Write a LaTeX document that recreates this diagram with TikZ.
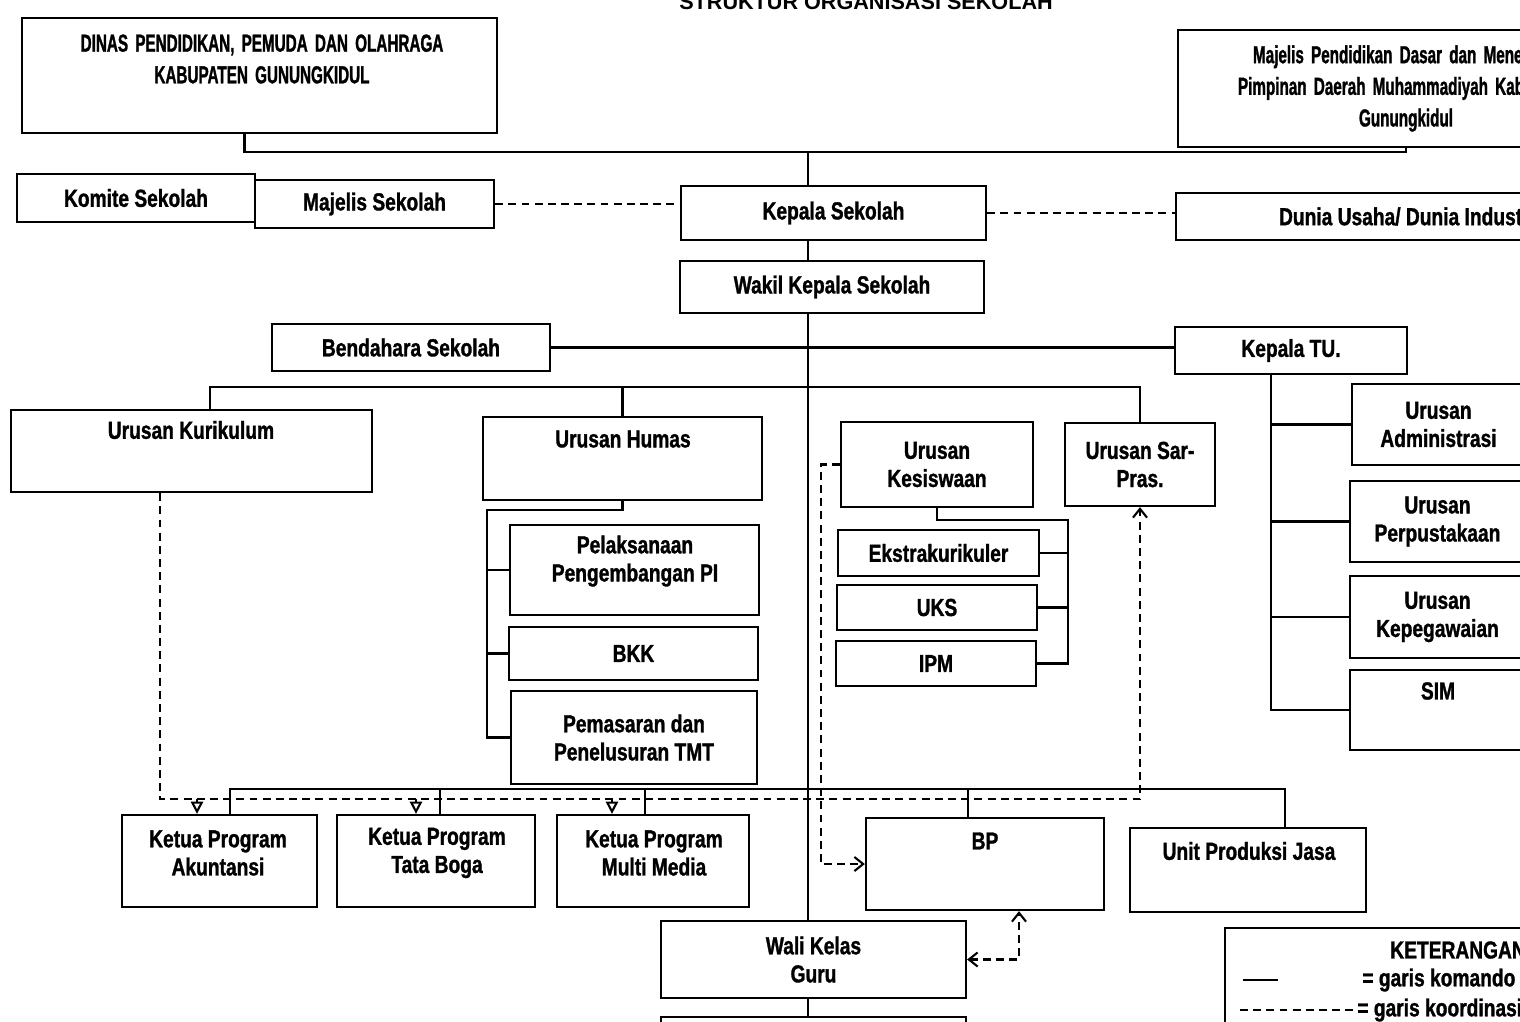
\documentclass[tikz,border=0pt]{standalone}
\usepackage{fontspec}
\setmainfont{Liberation Sans}
\newfontfamily\lblfont{Liberation Sans}[FakeStretch=0.78, BoldFeatures={FakeBold=1.2}]
\newfontfamily\narrowfont{Liberation Sans}[FakeStretch=0.62, WordSpace=1.7, BoldFeatures={FakeBold=1.2}]
\usetikzlibrary{arrows.meta}

\begin{document}
\begin{tikzpicture}[x=0.2mm, y=-0.2mm,
	box/.style	= {draw, line width=1.3pt, inner sep=0pt, align=center, font=\lblfont\bfseries\fontsize{14}{16}\selectfont},
	txt/.style	= {inner sep=0pt, align=center, font=\lblfont\bfseries\fontsize{14}{16}\selectfont},
	head/.style	= {font=\narrowfont\bfseries\fontsize{14}{18}\selectfont},
	kom/.style	= {line width=1.2pt},
	koor/.style	= {line width=1.2pt, dash pattern=on 4.5pt off 3pt},
	drop/.style	= {-{Triangle[open, length=7pt, width=7pt]}},
	>={Straight Barb[length=5pt, width=8pt]}]
	\useasboundingbox (0,0) rectangle (1520,1021);
	\fill[white] (0,0) rectangle (1520,1021);
	\clip (0,0) rectangle (1520,1021);

	\node (title) at (866, 9)	[anchor=base, font=\bfseries\fontsize{12.3}{14}\selectfont]	{STRUKTUR ORGANISASI SEKOLAH};

	% atas
	\node (dinas) at (259.5, 75.5)	[box, minimum width=95mm, minimum height=23mm]	{};
	\node (dinas-t) at (262, 59)	[txt, head]	{DINAS PENDIDIKAN, PEMUDA DAN OLAHRAGA\\KABUPATEN GUNUNGKIDUL};
	\node (majdik) at (1406, 88.5)	[box, head, minimum width=91.2mm, minimum height=23.4mm]	{Majelis Pendidikan Dasar dan Menengah\\Pimpinan Daerah Muhammadiyah Kabupaten\\Gunungkidul};
	\node (komite) at (136, 198)	[box, minimum width=47.6mm, minimum height=9.6mm]	{Komite Sekolah};
	\node (majsek) at (374.5, 204)	[box, minimum width=47.8mm, minimum height=9.6mm]	{Majelis Sekolah};
	\node (kepala) at (833.5, 213)	[box, minimum width=61mm, minimum height=10.8mm]	{Kepala Sekolah};
	\node (dudi) at (1407, 216.5)	[box, minimum width=92.4mm, minimum height=9.4mm]	{Dunia Usaha/ Dunia Industri};
	\node (wakil) at (832, 287)	[box, minimum width=60.8mm, minimum height=10.4mm]	{Wakil Kepala Sekolah};
	\node (bendahara) at (411, 347.5)	[box, minimum width=55.6mm, minimum height=9.4mm]	{Bendahara Sekolah};
	\node (kepalatu) at (1291, 350.5)	[box, minimum width=46.4mm, minimum height=9.4mm]	{Kepala TU.};

	% urusan
	\node (kurikulum) at (191.5, 451)	[box, minimum width=72.2mm, minimum height=16.4mm]	{};
	\node (kurikulum-t) at (191, 430)	[txt]	{Urusan Kurikulum};
	\node (humas) at (622.5, 458.5)	[box, minimum width=55.8mm, minimum height=16.6mm]	{};
	\node (humas-t) at (623, 439)	[txt]	{Urusan Humas};
	\node (pelaksanaan) at (634.5, 570)	[box, minimum width=49.8mm, minimum height=18mm]	{};
	\node (pelaksanaan-t) at (635, 561)	[txt]	{Pelaksanaan\\Pengembangan PI};
	\node (bkk) at (633.5, 653.5)	[box, minimum width=49.8mm, minimum height=10.6mm]	{BKK};
	\node (pemasaran) at (634, 737.5)	[box, minimum width=49.2mm, minimum height=18.6mm]	{Pemasaran dan\\Penelusuran TMT};
	\node (kesiswaan) at (937, 464.5)	[box, minimum width=38.4mm, minimum height=17mm]	{Urusan\\Kesiswaan};
	\node (sarpras) at (1140, 464.5)	[box, minimum width=30mm, minimum height=16.6mm]	{Urusan Sar-\\Pras.};
	\node (ekstra) at (938.5, 553)	[box, minimum width=40.2mm, minimum height=9.2mm]	{Ekstrakurikuler};
	\node (uks) at (937, 607.5)	[box, minimum width=40mm, minimum height=9mm]	{UKS};
	\node (ipm) at (936, 663.5)	[box, minimum width=40mm, minimum height=9mm]	{IPM};
	\node (adm) at (1438.5, 424.5)	[box, minimum width=34.6mm, minimum height=16.2mm]	{Urusan\\Administrasi};
	\node (perpus) at (1437.5, 521.5)	[box, minimum width=35mm, minimum height=16.2mm]	{Urusan\\Perpustakaan};
	\node (kepeg) at (1437.5, 617)	[box, minimum width=35mm, minimum height=16.4mm]	{Urusan\\Kepegawaian};
	\node (sim) at (1437.5, 710)	[box, minimum width=35mm, minimum height=16mm]	{};
	\node (sim-t) at (1438, 691)	[txt]	{SIM};

	% program
	\node (akun) at (219.5, 861)	[box, minimum width=39mm, minimum height=18.4mm]	{};
	\node (akun-t) at (218, 853)	[txt]	{Ketua Program\\Akuntansi};
	\node (tataboga) at (436, 861)	[box, minimum width=39.6mm, minimum height=18.4mm]	{};
	\node (tataboga-t) at (437, 853)	[txt]	{Ketua Program\\Tata Boga};
	\node (multimedia) at (653, 861)	[box, minimum width=38.4mm, minimum height=18.4mm]	{};
	\node (multimedia-t) at (654, 853)	[txt]	{Ketua Program\\Multi Media};
	\node (bp) at (985, 864)	[box, minimum width=47.6mm, minimum height=18.4mm]	{};
	\node (bp-t) at (985, 841)	[txt]	{BP};
	\node (upj) at (1248, 870)	[box, minimum width=47.2mm, minimum height=16.8mm]	{};
	\node (upj-t) at (1249, 851)	[txt]	{Unit Produksi Jasa};
	\node (wali) at (813.5, 959.5)	[box, minimum width=61mm, minimum height=15.4mm]	{Wali Kelas\\Guru};
	\node (kelas) at (813.5, 1058.5)	[box, minimum width=61mm, minimum height=16.6mm]	{};

	% keterangan
	\node (ket) at (1442.5, 1014)	[box, minimum width=87mm, minimum height=34.4mm]	{};
	\node (ket-t) at (1390, 950)	[txt, anchor=west]	{KETERANGAN:};
	\node (komando) at (1362, 980)	[txt, anchor=west]	{= garis komando};
	\node (koordinasi) at (1357, 1010)	[txt, anchor=west]	{= garis koordinasi};
	\draw[kom] ([xshift=-23.8mm]komando.west) -- ++(35, 0);
	\draw[koor] ([xshift=-23.4mm]koordinasi.west) -- ([xshift=-0.4mm]koordinasi.west);

	% garis komando
	\coordinate (trunk) at (808, 152);
	\draw[kom] ([xshift=-3mm]dinas.south) |- (trunk) -| (majdik.south);
	\draw[kom] (trunk) -- (kepala.north -| trunk);
	\draw[kom] (kepala.south -| trunk) -- (wakil.north -| trunk);
	\draw[kom] (wakil.south -| trunk) -- (wali.north -| trunk);
	\draw[kom] (wali.south -| trunk) -- (kelas.north -| trunk);
	\draw[kom] (bendahara.east) -- (bendahara.east -| kepalatu.west);

	\coordinate (bus2) at (0, 387);
	\draw[kom] ([xshift=3.7mm]kurikulum.north) |- (bus2 -| sarpras.north) -- (sarpras.north);
	\draw[kom] (bus2 -| humas.north) -- (humas.north);

	\coordinate (hrail) at (487, 510);
	\draw[kom] (humas.south) |- (hrail) |- (pemasaran.west);
	\draw[kom] (pelaksanaan.west -| hrail) -- (pelaksanaan.west);
	\draw[kom] (bkk.west -| hrail) -- (bkk.west);

	\coordinate (krail) at (1068, 520);
	\draw[kom] (kesiswaan.south) |- (krail) |- (ipm.east);
	\draw[kom] (ekstra.east -| krail) -- (ekstra.east);
	\draw[kom] (uks.east -| krail) -- (uks.east);

	\coordinate (trail) at ([xshift=-4mm]kepalatu.south);
	\draw[kom] (trail) |- (sim.west);
	\foreach \u in {adm, perpus, kepeg}
		\draw[kom] (\u.west -| trail) -- (\u.west);

	\coordinate (bus3) at (0, 789);
	\coordinate (s1) at ([xshift=2.1mm]akun.north);
	\coordinate (s2) at ([xshift=0.8mm]tataboga.north);
	\coordinate (s3) at ([xshift=-1.6mm]multimedia.north);
	\coordinate (s4) at ([xshift=-3.4mm]bp.north);
	\coordinate (s5) at ([xshift=7.4mm]upj.north);
	\draw[kom] (s1) |- (bus3 -| s5) -- (s5);
	\foreach \s in {s2, s3, s4}
		\draw[kom] (bus3 -| \s) -- (\s);

	% garis koordinasi
	\draw[koor] (majsek.east) -- (majsek.east -| kepala.west);
	\draw[koor] (kepala.east) -- (kepala.east -| dudi.west);

	\coordinate (bus4) at (0, 799);
	\draw[koor, ->] ([xshift=-6.3mm]kurikulum.south) |- (bus4 -| sarpras.south) -- (sarpras.south);
	\coordinate (d1) at ([xshift=-4.5mm]akun.north);
	\coordinate (d2) at ([xshift=-4mm]tataboga.north);
	\coordinate (d3) at ([xshift=-8.2mm]multimedia.north);
	\foreach \d in {d1, d2, d3}
		\draw[koor, drop] (bus4 -| \d) -- (\d);

	\draw[koor, ->] (kesiswaan.west) -- ++(-19, 0) |- (bp.west);
	\draw[koor, <->] (wali.east) -| ([xshift=6.8mm]bp.south);
\end{tikzpicture}
\end{document}
